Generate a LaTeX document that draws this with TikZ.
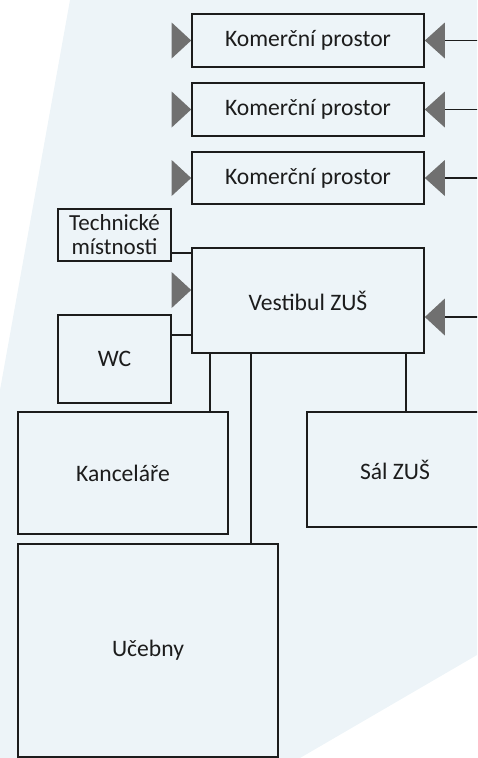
\documentclass[tikz,border=0pt]{standalone}
\usepackage{fontspec}
\setmainfont{Carlito}
\definecolor{bgblue}{HTML}{EDF4F8}
\definecolor{tri}{HTML}{707070}
\definecolor{ink}{HTML}{1C1C1C}
\begin{document}
\begin{tikzpicture}[x=1pt,y=-1pt,
  room/.style={draw=ink, line width=1.7pt, fill=bgblue, text=ink, inner sep=0pt,
    font=\fontsize{23.6}{26}\selectfont, align=center},
  conn/.style={draw=ink, line width=1.5pt},
  door/.style={fill=tri}]
\useasboundingbox (0,0) rectangle (477,758);
\clip (0,0) rectangle (477,758);
\fill[bgblue] (70,0) -- (477,0) -- (477,655) -- (300,758) -- (0,758) -- (0,390) -- cycle;

\node[room, minimum width=232pt, minimum height=53pt] (k1) at (308,40.5) {Komerční prostor};
\node[room, minimum width=232pt, minimum height=53pt] (k2) at (308,109.5) {Komerční prostor};
\node[room, minimum width=232pt, minimum height=52pt] (k3) at (308,178) {Komerční prostor};
\node[room, minimum width=113pt, minimum height=52pt, font=\fontsize{23}{24}\selectfont] (tech) at (114.5,235) {Technické\\místnosti};
\node[room, minimum width=232pt, minimum height=105pt] (vest) at (308,300.5) {Vestibul ZUŠ};
\node[room, minimum width=113pt, minimum height=88pt] (wc) at (114.5,359) {WC};
\node[room, minimum width=210pt, minimum height=122pt] (kanc) at (123,473) {Kanceláře};
\node[room, minimum width=176pt, minimum height=115pt] (sal) at (395,469.5) {Sál ZUŠ};
\node[room, minimum width=260pt, minimum height=213pt] (uceb) at (148,650.5) {Učebny};

% connectors
\draw[conn] (tech.east |- 0,253) -- (vest.west |- 0,253);
\draw[conn] (wc.east |- 0,335) -- (vest.west |- 0,335);
\draw[conn] (vest.south -| 210,0) -- (kanc.north -| 210,0);
\draw[conn] (vest.south -| 251,0) -- (uceb.north -| 251,0);
\draw[conn] (vest.south -| 406,0) -- (sal.north -| 406,0);

% entrances (left)
\foreach \n in {k1,k2,k3} {
  \fill[door] (\n.west) -- ++(-19.5,-18) -- ++(0,36) -- cycle;
}
\fill[door] ([yshift=10.5pt]vest.west) -- ++(-19.5,-18) -- ++(0,36) -- cycle;

% entrances (right) with lines
\foreach \n in {k1,k2,k3} {
  \draw[conn] ([xshift=20pt]\n.east) -- ++(40,0);
  \fill[door] (\n.east) -- ++(20,-18) -- ++(0,36) -- cycle;
}
\draw[conn] ([xshift=20pt,yshift=-16.5pt]vest.east) -- ++(40,0);
\fill[door] ([yshift=-16.5pt]vest.east) -- ++(20,-18.5) -- ++(0,37) -- cycle;
\end{tikzpicture}
\end{document}
